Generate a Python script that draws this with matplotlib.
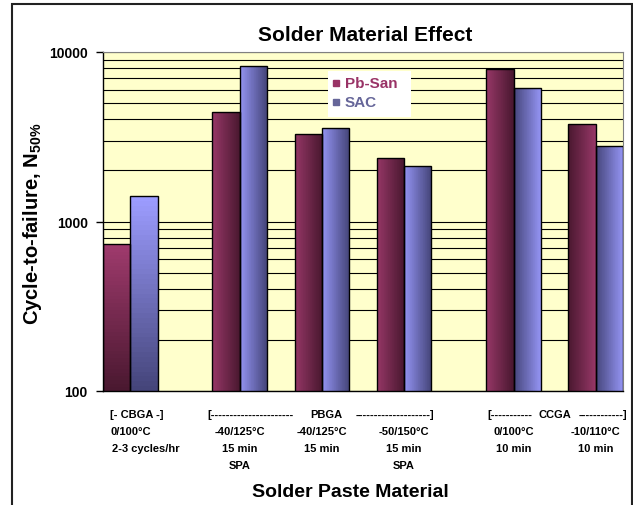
import numpy as np
import matplotlib
matplotlib.use('Agg')
import matplotlib.pyplot as plt
import matplotlib.transforms as mtransforms
from matplotlib.colors import LinearSegmentedColormap
from matplotlib.patches import Rectangle
from matplotlib.lines import Line2D
from matplotlib.ticker import LogLocator, NullFormatter, FixedLocator

plt.rcParams['font.family'] = ['Liberation Sans', 'DejaVu Sans']
plt.rcParams['font.weight'] = 'bold'
plt.rcParams['mathtext.fontset'] = 'custom'
plt.rcParams['mathtext.bf'] = 'Liberation Sans:bold'
plt.rcParams['mathtext.rm'] = 'Liberation Sans:bold'
plt.rcParams['mathtext.default'] = 'bf'

# data
series = ['Pb-San', 'SAC']
pb_san = [734, 4400, 3270, 2370, 7940, 3780]
sac = [1410, 8230, 3550, 2120, 6100, 2800]
temps = ['0/100°C', '-40/125°C', '-40/125°C', '-50/150°C', '0/100°C', '-10/110°C']
dwell = ['2-3 cycles/hr', '15 min', '15 min', '15 min', '10 min', '10 min']
extra = ['', 'SPA', '', 'SPA', '', '']
yticks = [100, 1000, 10000]

# layout: group centres on the x axis (gaps before PBGA and CCGA blocks)
centers = np.array([1, 5, 8, 11, 15, 18])
# gradient direction per bar: v = vertical, lr = light left, rl = light right
grad_pb = ['v', 'lr', 'lr', 'lr', 'lr', 'rl']
grad_sac = ['v', 'lr', 'lr', 'lr', 'rl', 'rl']

W, H = 633, 506
fig = plt.figure(figsize=(W / 100, H / 100), dpi=100)
fig.patch.set_facecolor('white')
ax = fig.add_axes([103 / W, 1 - 392 / H, 520 / W, 339 / H])
ax.set_facecolor('#FFFFCC')

ax.set_yscale('log')
ax.set_ylim(100, 10000)
ax.set_xlim(0, 19)

cm_pb = LinearSegmentedColormap.from_list('pb', ['#9E3A6C', '#4A1830'])
cm_sac = LinearSegmentedColormap.from_list('sac', ['#9C9CFF', '#45457A'])


def gradient_bar(x0, val, cmap, mode):
    n = 40
    if mode == 'v':
        X = [x0, x0 + 1]
        Y = np.logspace(2, np.log10(val), n + 1)
        C = np.linspace(1, 0, n).reshape(n, 1)
    else:
        X = np.linspace(x0, x0 + 1, n + 1)
        Y = [100, val]
        t = np.linspace(0, 1, n)
        if mode == 'rl':
            t = t[::-1]
        C = (0.1 + 0.9 * t).reshape(1, n)
    ax.pcolormesh(X, Y, C, cmap=cmap, vmin=0, vmax=1, shading='flat', zorder=2)


for i, c in enumerate(centers):
    gradient_bar(c - 1, pb_san[i], cm_pb, grad_pb[i])
    gradient_bar(c, sac[i], cm_sac, grad_sac[i])

ax.bar(centers - 0.5, pb_san, width=1, fill=False, edgecolor='black', linewidth=1, zorder=3)
ax.bar(centers + 0.5, sac, width=1, fill=False, edgecolor='black', linewidth=1, zorder=3)

# axes styling
ax.yaxis.set_major_locator(FixedLocator(yticks))
ax.set_yticklabels([str(v) for v in yticks], fontsize=10, fontweight='bold')
ax.yaxis.set_minor_locator(LogLocator(base=10, subs=range(2, 10)))
ax.yaxis.set_minor_formatter(NullFormatter())
ax.tick_params(axis='y', which='major', length=5, width=1, pad=6, direction='out')
ax.tick_params(axis='y', which='minor', length=0)
ax.tick_params(axis='x', length=0, labelbottom=False)
ax.grid(True, axis='y', which='both', color='black', linewidth=0.8)
ax.set_axisbelow(True)
for s in ['top', 'right']:
    ax.spines[s].set_color('#808080')
for s in ['left', 'bottom']:
    ax.spines[s].set_color('black')
    ax.spines[s].set_linewidth(1)

# category labels under the axis
trans = mtransforms.blended_transform_factory(ax.transData, ax.transAxes)
def ypx(py):
    return (392 - py) / 339

lab = dict(fontsize=8, fontweight='bold', transform=trans, va='center', clip_on=False)
ax.text(1.25, ypx(415), '[- CBGA -]', ha='center', **lab)
ax.text(3.8, ypx(415), '[' + '-' * 22, ha='left', **lab)
ax.text(8.15, ypx(415), 'PBGA', ha='center', **lab)
ax.text(12.1, ypx(415), '-' * 20 + ']', ha='right', **lab)
ax.text(14.05, ypx(415), '[' + '-' * 11, ha='left', **lab)
ax.text(16.5, ypx(415), 'CCGA', ha='center', **lab)
ax.text(19.15, ypx(415), '-' * 12 + ']', ha='right', **lab)
for i, c in enumerate(centers):
    ax.text(c, ypx(432), temps[i], ha='center', **lab)
    ax.text(c + (0.55 if i == 0 else 0), ypx(449), dwell[i], ha='center', **lab)
    if extra[i]:
        ax.text(c, ypx(466), extra[i], ha='center', **lab)

fig.text(365 / W, 1 - 41 / H, 'Solder Material Effect', ha='center', va='baseline',
         fontsize=15, fontweight='bold')
fig.text(350 / W, 1 - 497 / H, 'Solder Paste Material', ha='center', va='baseline',
         fontsize=14, fontweight='bold')
fig.text(33 / W, 1 - 224 / H, r'Cycle-to-failure, N$_{50\%}$', rotation=90,
         ha='center', va='center', fontsize=14.5, fontweight='bold')

# legend box
colors = ['#993366', '#666699']
fig.patches.append(Rectangle((328 / W, 1 - 118 / H), 83 / W, 46 / H,
                             transform=fig.transFigure, facecolor='white',
                             edgecolor='none', zorder=5))
for k, (name, col) in enumerate(zip(series, colors)):
    yy = 1 - (84 + 19 * k) / H
    fig.add_artist(Line2D([336 / W], [yy], marker='s', markersize=4.5, color=col,
                          linestyle='none', transform=fig.transFigure, zorder=6))
    fig.text(345 / W, yy, name, color=col, fontsize=11, fontweight='bold',
             va='center', ha='left', zorder=6)

# outer frame
fig.patches.append(Rectangle((12 / W, -0.02), 620 / W, 1.02 - 5 / H,
                             transform=fig.transFigure, fill=False,
                             edgecolor='#222222', linewidth=1.5, zorder=10))

fig.savefig('out.png', dpi=100)
